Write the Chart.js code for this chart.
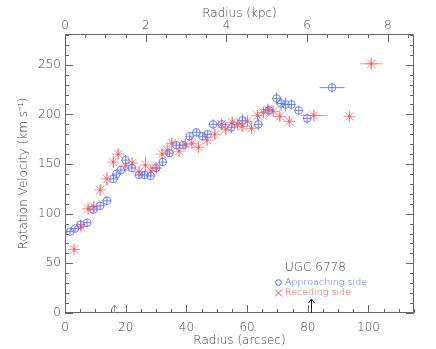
<!DOCTYPE html>
<html>
<head>
<meta charset="utf-8">
<script src="https://cdn.jsdelivr.net/npm/chart.js@4.4.1/dist/chart.umd.min.js"></script>
<style>
  html, body { margin: 0; padding: 0; background: #fff; }
  #wrap { width: 436px; height: 349px; }
</style>
</head>
<body>
<div id="wrap"><canvas id="rc"></canvas></div>
<script>
'use strict';

// approaching side (blue circles)
const appRadius = [1.7, 3.3, 5.1, 7.3, 9.3, 11.6, 13.8, 16.0, 16.9, 18.4, 20.0, 22.0, 24.4, 26.2, 28.2, 30.0, 32.2, 34.4, 36.7, 38.9, 41.1, 43.3, 45.3, 47.0, 48.8, 51.7, 54.8, 58.5, 63.7, 67.2, 69.7, 71.2, 72.7, 74.6, 77.0, 79.8, 88.0];
const appVel    = [82, 85, 89, 91, 104, 108, 113, 135, 140, 144, 154, 146, 139, 139, 138, 146, 152, 161, 169, 169, 178, 182, 178, 180, 190, 190, 187, 194, 190, 204, 216, 211, 210, 210, 204, 196, 227];
const appErr    = [3, 3, 5, 4, 4, 4, 5, 4, 4, 4, 5, 4, 4, 4, 4, 4, 4, 4, 4, 4, 4, 4, 4, 4, 5, 4, 6, 6, 6, 5, 6, 7, 7, 5, 5, 5, 5];
const appRadErr = [0, 0, 0, 0, 0, 0, 0, 0, 0, 0, 0, 0, 0, 0, 0, 0, 0, 0, 0, 0, 0, 0, 0, 0, 0, 0, 0, 0, 0, 0, 0, 0, 0, 0, 0, 0, 4.1];

// receding side (red asterisks)
const recRadius = [3.0, 5.3, 7.6, 9.5, 11.6, 13.8, 15.9, 17.5, 20.0, 22.1, 24.4, 26.5, 28.3, 30.1, 32.0, 33.7, 35.2, 37.6, 39.6, 41.8, 44.0, 46.8, 49.4, 51.6, 53.0, 55.1, 56.8, 58.4, 60.1, 61.5, 63.4, 65.4, 66.9, 68.6, 70.8, 73.9, 82.0, 93.7, 100.9];
const recVel    = [64, 87, 105, 107, 124, 135, 152, 160, 148, 151, 142, 149, 143, 146, 160, 164, 171, 163, 170, 171, 167, 174, 180, 190, 185, 192, 190, 188, 193, 186, 199, 202, 205, 203, 198, 193, 199, 198, 251];
const recErr    = [4, 5, 5, 5, 5, 7, 5, 5, 5, 5, 6, 9, 5, 5, 5, 5, 5, 5, 5, 5, 5, 5, 5, 5, 5, 5, 5, 5, 5, 5, 5, 5, 5, 5, 5, 5, 5, 5, 5];
const recRadErr = [0, 0, 0, 0, 0, 0, 0, 0, 0, 0, 0, 0, 0, 0, 0, 0, 0, 0, 0, 0, 0, 0, 0, 0, 0, 0, 0, 0, 0, 0, 0, 0, 0, 0, 0, 0, 4.4, 0, 3.7];

// arrows on the radius axis
const arrowRadius = [16, 81];

const ARCSEC_PER_KPC = 13.3;
const X_MAX = 115;
const Y_MAX = 281;

const BLUE = 'rgba(85,115,255,0.85)';
const RED = 'rgba(255,95,95,0.7)';
const BLUE_TXT = 'rgb(70,100,255)';
const RED_TXT = 'rgb(255,70,70)';
const AXIS = '#444';
const FONT = "'DejaVu Sans', sans-serif";

function toPoints(xs, ys) {
  return xs.map((x, i) => ({ x: x, y: ys[i] }));
}

// error bars (drawn under the symbols)
const errorBars = {
  id: 'errorBars',
  beforeDatasetsDraw(chart) {
    const ctx = chart.ctx;
    const xs = chart.scales.x, ys = chart.scales.y;
    ctx.save();
    chart.data.datasets.forEach((ds, i) => {
      ctx.strokeStyle = ds.borderColor;
      ctx.lineWidth = 1;
      ds.data.forEach((p, j) => {
        const px = xs.getPixelForValue(p.x), py = ys.getPixelForValue(p.y);
        const e = ds.errY[j], xe = ds.errX[j];
        ctx.beginPath();
        ctx.moveTo(px, ys.getPixelForValue(p.y - e));
        ctx.lineTo(px, ys.getPixelForValue(p.y + e));
        let hw = ds.minHalf;
        if (xe > 0) hw = Math.max(hw, xs.getPixelForValue(p.x + xe) - px);
        if (hw > 0) {
          ctx.moveTo(px - hw, py);
          ctx.lineTo(px + hw, py);
        }
        ctx.stroke();
        if (ds.dot) {
          ctx.fillStyle = ds.dot;
          ctx.fillRect(px - 1, py - 1, 2, 2);
        }
      });
    });
    ctx.restore();
  }
};

// inward ticks on all four sides, arrows, legend text
const frame = {
  id: 'frame',
  afterDraw(chart) {
    const ctx = chart.ctx;
    const a = chart.chartArea;
    const xs = chart.scales.x, xt = chart.scales.xTop, ys = chart.scales.y;
    ctx.save();
    ctx.strokeStyle = '#666';
    ctx.lineWidth = 1;
    ctx.beginPath();
    ctx.rect(a.left + 0.5, a.top + 0.5, a.right - a.left - 1, a.bottom - a.top - 1);
    // radius (arcsec) bottom
    for (let v = 0; v <= X_MAX; v += 5) {
      const px = Math.round(xs.getPixelForValue(v)) + 0.5;
      const len = v % 20 === 0 ? 8 : 4;
      ctx.moveTo(px, a.bottom); ctx.lineTo(px, a.bottom - len);
    }
    // radius (kpc) top
    for (let v = 0; v <= X_MAX / ARCSEC_PER_KPC; v += 0.5) {
      const px = Math.round(xt.getPixelForValue(v)) + 0.5;
      const len = v % 2 === 0 ? 8 : 4;
      ctx.moveTo(px, a.top); ctx.lineTo(px, a.top + len);
    }
    // velocity left and right
    for (let v = 0; v <= Y_MAX; v += 10) {
      const py = Math.round(ys.getPixelForValue(v)) + 0.5;
      const len = v % 50 === 0 ? 8 : 4;
      ctx.moveTo(a.left, py); ctx.lineTo(a.left + len, py);
      ctx.moveTo(a.right, py); ctx.lineTo(a.right - len, py);
    }
    ctx.stroke();

    // arrows
    arrowRadius.forEach((r, i) => {
      const px = Math.round(xs.getPixelForValue(r)) + 0.5;
      const h = i === 0 ? 8 : 14;
      ctx.strokeStyle = i === 0 ? '#999' : '#222';
      ctx.beginPath();
      ctx.moveTo(px, a.bottom);
      ctx.lineTo(px, a.bottom - h);
      ctx.moveTo(px - 3, a.bottom - h + 4);
      ctx.lineTo(px, a.bottom - h);
      ctx.lineTo(px + 3, a.bottom - h + 4);
      ctx.stroke();
    });

    // legend
    const lx = xs.getPixelForValue(72.5);
    ctx.textBaseline = 'middle';
    ctx.fillStyle = AXIS;
    ctx.font = '200 12px ' + FONT;
    ctx.fillText('UGC 6778', lx, 268);
    ctx.font = '200 9.5px ' + FONT;
    ctx.fillStyle = BLUE_TXT;
    ctx.fillText('Approaching side', lx, 282.5);
    ctx.strokeStyle = BLUE_TXT;
    ctx.beginPath();
    ctx.arc(lx - 6.5, 282.5, 2.8, 0, Math.PI * 2);
    ctx.stroke();
    ctx.fillStyle = RED_TXT;
    ctx.fillText('Receding side', lx, 293);
    ctx.strokeStyle = RED_TXT;
    ctx.beginPath();
    ctx.moveTo(lx - 10, 289.5); ctx.lineTo(lx - 3, 296.5);
    ctx.moveTo(lx - 3, 289.5); ctx.lineTo(lx - 10, 296.5);
    ctx.stroke();
    ctx.restore();
  }
};

function fixedTicks(step, max) {
  return function(scale) {
    const t = [];
    for (let v = 0; v <= max + 1e-9; v += step) t.push({ value: v });
    scale.ticks = t;
  };
}

const tickFont = { family: FONT, size: 12, weight: '200' };
const titleFont = { family: FONT, size: 12, weight: '200' };

new Chart(document.getElementById('rc'), {
  type: 'scatter',
  data: {
    datasets: [{
      label: 'Approaching side',
      data: toPoints(appRadius, appVel),
      errY: appErr,
      errX: appRadErr,
      minHalf: 4.5,
      pointStyle: 'circle',
      pointRadius: 3.8,
      pointHoverRadius: 3.8,
      borderWidth: 1,
      borderColor: BLUE,
      backgroundColor: 'transparent'
    }, {
      label: 'Receding side',
      data: toPoints(recRadius, recVel),
      errY: recErr,
      errX: recRadErr,
      minHalf: 0,
      dot: 'rgba(220,30,30,0.9)',
      pointStyle: 'star',
      pointRadius: 6,
      pointHoverRadius: 6,
      borderWidth: 1,
      borderColor: RED,
      backgroundColor: 'transparent'
    }]
  },
  options: {
    responsive: true,
    maintainAspectRatio: false,
    animation: false,
    layout: { padding: 0 },
    scales: {
      x: {
        type: 'linear',
        position: 'bottom',
        min: 0,
        max: X_MAX,
        afterBuildTicks: fixedTicks(20, X_MAX),
        afterFit: (s) => { s.height = 36; },
        grid: { display: false, drawTicks: false },
        border: { display: false },
        ticks: { color: AXIS, font: tickFont, padding: 8, maxRotation: 0 },
        title: { display: true, text: 'Radius (arcsec)', color: AXIS, font: titleFont, padding: { top: 0, bottom: 1 } }
      },
      xTop: {
        type: 'linear',
        position: 'top',
        min: 0,
        max: X_MAX / ARCSEC_PER_KPC,
        afterBuildTicks: fixedTicks(2, X_MAX / ARCSEC_PER_KPC),
        afterFit: (s) => { s.height = 34; },
        grid: { display: false, drawTicks: false },
        border: { display: false },
        ticks: { color: AXIS, font: tickFont, padding: 1, maxRotation: 0 },
        title: { display: true, text: 'Radius (kpc)', color: AXIS, font: titleFont, padding: { top: 7, bottom: 0 } }
      },
      y: {
        type: 'linear',
        position: 'left',
        min: 0,
        max: Y_MAX,
        afterBuildTicks: fixedTicks(50, Y_MAX),
        afterFit: (s) => { s.width = 65; },
        grid: { display: false, drawTicks: false },
        border: { display: false },
        ticks: { color: AXIS, font: tickFont, padding: 4 },
        title: { display: true, text: 'Rotation Velocity (km s\u207B\u00B9)', color: AXIS, font: titleFont, padding: { top: 17, bottom: 0 } }
      },
      yRight: {
        type: 'linear',
        position: 'right',
        min: 0,
        max: Y_MAX,
        afterFit: (s) => { s.width = 22; },
        grid: { display: false, drawTicks: false },
        border: { display: false },
        ticks: { display: false }
      }
    },
    plugins: {
      legend: { display: false },
      tooltip: { enabled: false }
    }
  },
  plugins: [errorBars, frame]
});
</script>
</body>
</html>
